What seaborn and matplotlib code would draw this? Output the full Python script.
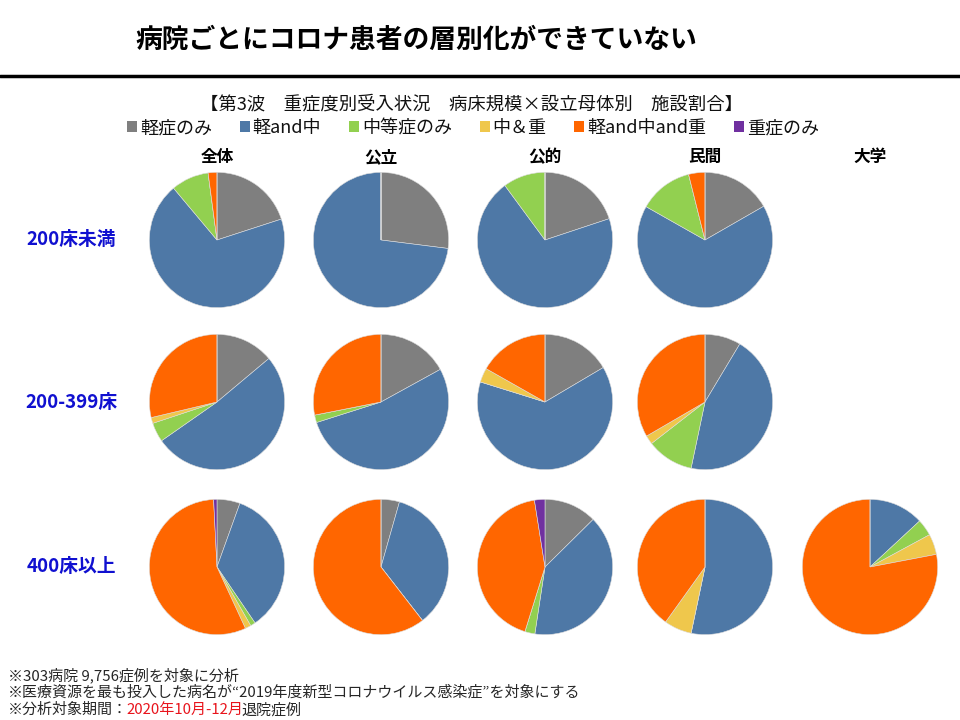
import matplotlib.pyplot as plt
import seaborn as sns
from matplotlib.patches import Patch
from matplotlib.lines import Line2D

# ==================== データ ====================
categories = ['軽症のみ', '軽and中', '中等症のみ', '中＆重', '軽and中and重', '重症のみ']
col_labels = ['全体', '公立', '公的', '民間', '大学']
row_labels = ['200床未満', '200-399床', '400床以上']

# 施設割合（%）: 行=病床規模, 列=設立母体
small_all = [20.0, 68.9, 9.0, 0.0, 2.1, 0.0]
small_public = [27.0, 73.0, 0.0, 0.0, 0.0, 0.0]
small_quasi = [19.9, 70.0, 10.1, 0.0, 0.0, 0.0]
small_private = [16.7, 66.5, 12.9, 0.0, 3.9, 0.0]

mid_all = [13.9, 51.4, 4.6, 1.4, 28.7, 0.0]
mid_public = [17.0, 53.1, 1.8, 0.0, 28.1, 0.0]
mid_quasi = [16.5, 63.3, 0.0, 3.4, 16.8, 0.0]
mid_private = [8.6, 44.7, 11.2, 2.1, 33.4, 0.0]

large_all = [5.5, 35.0, 1.2, 1.4, 56.1, 0.8]
large_public = [4.4, 35.1, 0.0, 0.0, 60.5, 0.0]
large_quasi = [12.6, 39.8, 2.4, 0.0, 42.7, 2.5]
large_private = [0.0, 53.3, 0.0, 6.6, 40.1, 0.0]
large_univ = [0.0, 13.1, 4.0, 4.9, 78.0, 0.0]

grid = [
    [small_all, small_public, small_quasi, small_private, None],
    [mid_all, mid_public, mid_quasi, mid_private, None],
    [large_all, large_public, large_quasi, large_private, large_univ],
]

# ==================== スタイル ====================
sns.set_theme(style="white")
plt.rcParams['font.family'] = ['Noto Sans CJK JP', 'DejaVu Sans']
colors = sns.color_palette(['#7f7f7f', '#4e78a6', '#92d050', '#efc74c', '#ff6600', '#7030a0'])

W, H = 960, 720
fig = plt.figure(figsize=(W / 100, H / 100), dpi=100)
fig.patch.set_facecolor('white')


def fx(px):
    return px / W


def fy(py):
    return 1 - py / H


# タイトルと区切り線
fig.text(fx(135), fy(40), '病院ごとにコロナ患者の層別化ができていない',
         fontsize=19.3, fontweight='bold', ha='left', va='center', color='black')
fig.add_artist(Line2D([0, 1], [fy(76), fy(76)], color='black', lw=2.5))

fig.text(fx(471), fy(104), '【第3波\u3000重症度別受入状況\u3000病床規模×設立母体別\u3000施設割合】',
         fontsize=13.2, ha='center', va='center', color='#111111')

handles = [Patch(facecolor=c, edgecolor='none', label=l) for c, l in zip(colors, categories)]
fig.legend(handles=handles, loc='center', bbox_to_anchor=(fx(473), fy(128)), ncol=6,
           frameon=False, fontsize=13, handlelength=0.55, handleheight=0.55,
           handletextpad=0.15, columnspacing=1.55, labelcolor='#111111')

# 円グラフ
col_x = [217, 381, 545, 705, 870]
row_y = [240, 402, 567]
radius = 69

for j, lab in enumerate(col_labels):
    fig.text(fx(col_x[j]), fy(157), lab, fontsize=12, fontweight='bold',
             ha='center', va='center', color='black')

for i, lab in enumerate(row_labels):
    fig.text(fx(71), fy(row_y[i]), lab, fontsize=13.5, fontweight='bold',
             ha='center', va='center', color='#1010d0')
    for j in range(5):
        vals = grid[i][j]
        if vals is None:
            continue
        ax = fig.add_axes([fx(col_x[j] - radius), fy(row_y[i] + radius),
                           fx(2 * radius), 2 * radius / H])
        ax.pie(vals, colors=colors, startangle=90, counterclock=False, radius=1,
               wedgeprops=dict(edgecolor='#dddddd', linewidth=0.4))
        ax.set_xlim(-1.02, 1.02)
        ax.set_ylim(-1.02, 1.02)
        ax.axis('off')

# 注記
fs = 10.8
fig.text(fx(8), fy(675), '※303病院 9,756症例を対象に分析', fontsize=fs, ha='left', va='center')
fig.text(fx(8), fy(692), '※医療資源を最も投入した病名が“2019年度新型コロナウイルス感染症”を対象にする',
         fontsize=fs, ha='left', va='center')
t1 = fig.text(fx(8), fy(710), '※分析対象期間：', fontsize=fs, ha='left', va='center')
t2 = fig.text(0, 0, '2020年10月-12月', fontsize=fs, color='#e8141c', ha='left', va='center')
t3 = fig.text(0, 0, '退院症例', fontsize=fs, ha='left', va='center')

fig.canvas.draw()
r = fig.canvas.get_renderer()
bb1 = t1.get_window_extent(r)
t2.set_position(((bb1.x1 - 2) / fig.bbox.width, fy(710)))
fig.canvas.draw()
bb2 = t2.get_window_extent(r)
t3.set_position(((bb2.x1 - 1) / fig.bbox.width, fy(710)))

fig.savefig('out.png', dpi=100, facecolor='white')
plt.close(fig)
